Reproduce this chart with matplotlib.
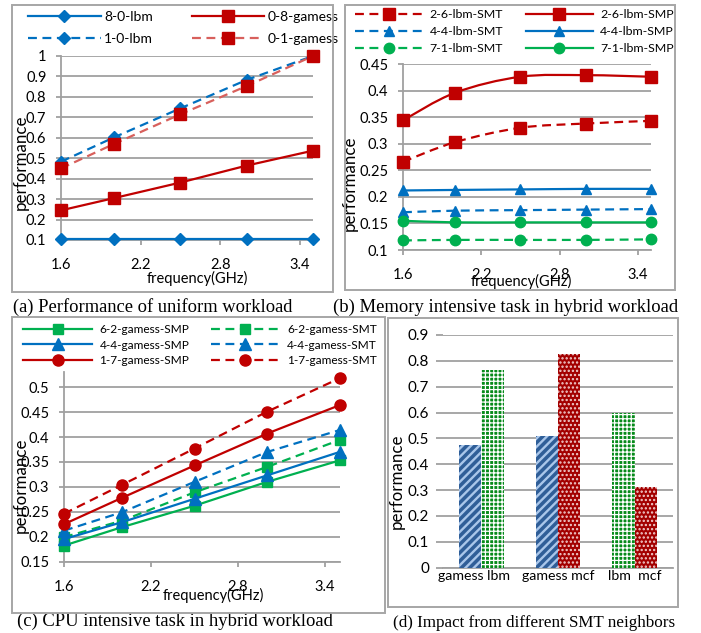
import numpy as np
import matplotlib
matplotlib.use("Agg")
import matplotlib.pyplot as plt
import matplotlib.transforms as mtransforms
from matplotlib.lines import Line2D
from matplotlib.patches import PathPatch, Rectangle
from matplotlib.path import Path

plt.rcParams['font.family'] = ['Lato', 'DejaVu Sans']

W, H, DPI = 701, 633, 100
BLUE = '#0070C0'
RED = '#C00000'
LRED = '#D8605C'
GREEN = '#00B050'
GRID = '#A0A0A0'
FRAME = '#A6A6A6'

# ---------------- data ----------------
freq = [1.6, 2.0, 2.5, 3.0, 3.5]
freq_ticks = [1.6, 2.2, 2.8, 3.4]
freq_ticklabels = ['1.6', '2.2', '2.8', '3.4']

# (a) uniform workload
a_800_lbm = [0.103, 0.103, 0.103, 0.103, 0.103]
a_100_lbm = [0.483, 0.602, 0.744, 0.883, 1.000]
a_080_gamess = [0.245, 0.305, 0.381, 0.464, 0.537]
a_010_gamess = [0.450, 0.570, 0.715, 0.853, 1.000]
a_yticks = [0.1, 0.2, 0.3, 0.4, 0.5, 0.6, 0.7, 0.8, 0.9, 1.0]
a_yticklabels = ['0.1', '0.2', '0.3', '0.4', '0.5', '0.6', '0.7', '0.8', '0.9', '1']

# (b) memory intensive task
b_26_smt = [0.266, 0.303, 0.330, 0.338, 0.343]
b_26_smp = [0.344, 0.396, 0.426, 0.429, 0.426]
b_44_smt = [0.171, 0.174, 0.175, 0.176, 0.177]
b_44_smp = [0.212, 0.213, 0.214, 0.215, 0.215]
b_71_smt = [0.118, 0.119, 0.119, 0.119, 0.120]
b_71_smp = [0.155, 0.152, 0.152, 0.152, 0.152]
b_yticks = [0.1, 0.15, 0.2, 0.25, 0.3, 0.35, 0.4, 0.45]
b_yticklabels = ['0.1', '0.15', '0.2', '0.25', '0.3', '0.35', '0.4', '0.45']

# (c) CPU intensive task
c_62_smp = [0.182, 0.219, 0.262, 0.310, 0.353]
c_62_smt = [0.199, 0.232, 0.289, 0.340, 0.394]
c_44_smp = [0.195, 0.229, 0.276, 0.323, 0.370]
c_44_smt = [0.212, 0.249, 0.310, 0.370, 0.414]
c_17_smp = [0.225, 0.278, 0.343, 0.407, 0.464]
c_17_smt = [0.246, 0.304, 0.377, 0.451, 0.518]
c_yticks = [0.15, 0.2, 0.25, 0.3, 0.35, 0.4, 0.45, 0.5]
c_yticklabels = ['0.15', '0.2', '0.25', '0.3', '0.35', '0.4', '0.45', '0.5']

# (d) SMT neighbours
d_groups = ['gamess lbm', 'gamess mcf', 'lbm  mcf']
d_left_prog = ['gamess', 'gamess', 'lbm']
d_left_vals = [0.475, 0.511, 0.600]
d_right_prog = ['lbm', 'mcf', 'mcf']
d_right_vals = [0.765, 0.826, 0.313]
d_yticks = [0, 0.1, 0.2, 0.3, 0.4, 0.5, 0.6, 0.7, 0.8, 0.9]
d_yticklabels = ['0', '0.1', '0.2', '0.3', '0.4', '0.5', '0.6', '0.7', '0.8', '0.9']

# ---------------- figure ----------------
fig = plt.figure(figsize=(W / DPI, H / DPI), dpi=DPI)
fig.patch.set_facecolor('white')


def add_axes_px(l, t, r, b):
    return fig.add_axes([l / W, 1 - b / H, (r - l) / W, (b - t) / H])


def style(ax, tick_fs=10.5, xpad=9, ypad=7):
    ax.set_axisbelow(True)
    ax.grid(axis='y', color=GRID, lw=1.3)
    ax.grid(axis='x', visible=False)
    for s in ['top', 'right']:
        ax.spines[s].set_visible(False)
    for s in ['left', 'bottom']:
        ax.spines[s].set_color(GRID)
        ax.spines[s].set_linewidth(1.3)
    ax.tick_params(direction='out', length=3.5, width=1.3, color=GRID,
                   labelsize=tick_fs, labelcolor='black')
    ax.tick_params(axis='x', pad=xpad)
    ax.tick_params(axis='y', pad=ypad)


DASH = (0, (4, 2.5))
LW = 1.6


def smooth_path(xs, ys):
    pts = np.column_stack([xs, ys]).astype(float)
    n = len(pts)
    verts = [pts[0]]
    codes = [Path.MOVETO]
    for i in range(n - 1):
        p0 = pts[max(i - 1, 0)]
        p1 = pts[i]
        p2 = pts[i + 1]
        p3 = pts[min(i + 2, n - 1)]
        c1 = p1 + (p2 - p0) / 6.0
        c2 = p2 - (p3 - p1) / 6.0
        verts += [c1, c2, p2]
        codes += [Path.CURVE4] * 3
    return Path(verts, codes)


def freq_axis(ax, ylo, yhi, yt, ytl):
    ax.set_xlim(1.6, 3.5)
    ax.set_ylim(ylo, yhi)
    ax.set_xticks(freq_ticks)
    ax.set_xticklabels(freq_ticklabels)
    ax.set_yticks(yt)
    ax.set_yticklabels(ytl)


def make_legend(ax, handles, labels, left, top, fs, hl, htp, cs, ls):
    leg = ax.legend(handles, labels, ncol=2, loc='upper left',
                    bbox_to_anchor=(left / W, 1 - top / H),
                    bbox_transform=fig.transFigure, fontsize=fs, frameon=True,
                    framealpha=1, facecolor='white', edgecolor='none', fancybox=False,
                    borderpad=0.2, handlelength=hl, handletextpad=htp,
                    columnspacing=cs, labelspacing=ls, borderaxespad=0)
    leg.set_zorder(20)
    return leg


# ---------- (a) ----------
axA = add_axes_px(61, 56, 313, 240)
style(axA, xpad=9.5)
freq_axis(axA, 0.1, 1.0, a_yticks, a_yticklabels)
axA.plot(freq, a_800_lbm, color=BLUE, lw=LW, marker='D', ms=6, mec=BLUE, clip_on=False, zorder=3)
axA.plot(freq, a_100_lbm, color=BLUE, lw=LW, ls=DASH, marker='D', ms=6, mec=BLUE, clip_on=False, zorder=3)
axA.plot(freq, a_080_gamess, color=RED, lw=LW, marker='s', ms=8.5, mec=RED, clip_on=False, zorder=3)
axA.plot(freq, a_010_gamess, color=LRED, lw=LW, ls=DASH, marker='s', ms=8.5, mfc=RED, mec=RED, clip_on=False, zorder=3)
hA = [Line2D([], [], color=BLUE, lw=LW, marker='D', ms=6),
      Line2D([], [], color=BLUE, lw=LW, ls=DASH, marker='D', ms=6),
      Line2D([], [], color=RED, lw=LW, marker='s', ms=8.5),
      Line2D([], [], color=LRED, lw=LW, ls=DASH, marker='s', ms=8.5, mfc=RED, mec=RED)]
lA = ['8-0-lbm', '1-0-lbm', '0-8-gamess', '0-1-gamess']
make_legend(axA, hA, lA, 25.5, 8, 10, 5.2, 0.25, 2.8, 0.75)

# ---------- (b) ----------
axB = add_axes_px(403, 64, 651, 250)
style(axB, xpad=9.5)
freq_axis(axB, 0.1, 0.45, b_yticks, b_yticklabels)
b_series = [
    (b_26_smt, RED, DASH, 's', 8, '2-6-lbm-SMT'),
    (b_44_smt, BLUE, DASH, '^', 7.5, '4-4-lbm-SMT'),
    (b_71_smt, GREEN, DASH, 'o', 7.5, '7-1-lbm-SMT'),
    (b_26_smp, RED, '-', 's', 8, '2-6-lbm-SMP'),
    (b_44_smp, BLUE, '-', '^', 7.5, '4-4-lbm-SMP'),
    (b_71_smp, GREEN, '-', 'o', 7.5, '7-1-lbm-SMP'),
]
hB, lB = [], []
for vals, col, ls, mk, ms, lab in b_series:
    axB.add_patch(PathPatch(smooth_path(freq, vals), fill=False, edgecolor=col, lw=LW,
                            ls=ls, zorder=3, clip_on=False))
    axB.plot(freq, vals, ls='none', marker=mk, ms=ms, color=col, clip_on=False, zorder=4)
    hB.append(Line2D([], [], color=col, lw=LW, ls=ls, marker=mk, ms=ms))
    lB.append(lab)
make_legend(axB, hB, lB, 352.5, 6.5, 8.9, 5.5, 0.55, 1.8, 0.5)

# ---------- (c) ----------
axC = add_axes_px(64, 372.4, 339.5, 561.5)
style(axC, xpad=9.5)
freq_axis(axC, 0.15, 0.53, c_yticks, c_yticklabels)
c_series = [
    (c_62_smp, GREEN, '-', 's', 7.5, '6-2-gamess-SMP'),
    (c_62_smt, GREEN, DASH, 's', 7.5, '6-2-gamess-SMT'),
    (c_44_smp, BLUE, '-', '^', 8.5, '4-4-gamess-SMP'),
    (c_44_smt, BLUE, DASH, '^', 8.5, '4-4-gamess-SMT'),
    (c_17_smp, RED, '-', 'o', 8, '1-7-gamess-SMP'),
    (c_17_smt, RED, DASH, 'o', 8, '1-7-gamess-SMT'),
]
hC = {}
for vals, col, ls, mk, ms, lab in c_series:
    axC.plot(freq, vals, color=col, lw=LW, ls=ls, marker=mk, ms=ms, clip_on=False, zorder=3)
    hC[lab] = Line2D([], [], color=col, lw=LW, ls=ls, marker=mk, ms=ms)
orderC = ['6-2-gamess-SMP', '4-4-gamess-SMP', '1-7-gamess-SMP',
          '6-2-gamess-SMT', '4-4-gamess-SMT', '1-7-gamess-SMT']
make_legend(axC, [hC[k] for k in orderC], orderC, 20.5, 321.5, 8.6, 5.8, 0.6, 1.8, 0.4)

# ---------- (d) ----------
axD = add_axes_px(443, 335, 673, 567.7)
style(axD, tick_fs=11)
axD.spines['left'].set_visible(False)
axD.set_xlim(-0.5, 2.5)
axD.set_ylim(0, 0.9)
axD.set_yticks(d_yticks)
axD.set_yticklabels(d_yticklabels)
xg = np.arange(len(d_groups))
axD.set_xticks(xg)
axD.set_xticklabels(d_groups, fontsize=10.2)
axD.tick_params(axis='x', length=0, pad=2)
axD.tick_params(axis='y', length=5, pad=5)
# first category label sits a little left of its group, as in the original
lbl0 = axD.get_xticklabels()[0]
lbl0.set_transform(lbl0.get_transform() +
                   mtransforms.ScaledTranslation(-7 / DPI, 0, fig.dpi_scale_trans))

prog_style = {
    'gamess': dict(fc='#2F5E98', hc='#A9C6EA', hatch='////', hlw=1.7),
    'lbm': dict(fc='#068A1A', hc='white', hatch='++++', hlw=0.9),
    'mcf': dict(fc='#A30000', hc='#F2D0D0', hatch='....', hlw=1.1),
}
BW = 0.293


def draw_bar(x, v, prog):
    st = prog_style[prog]
    with plt.rc_context({'hatch.linewidth': st['hlw']}):
        b = axD.bar(x, v, width=BW, color=st['fc'], edgecolor=st['hc'], hatch=st['hatch'],
                    lw=0, zorder=3)
    for p in b.patches:
        if hasattr(p, 'set_hatch_linewidth'):
            p.set_hatch_linewidth(st['hlw'])


for i in range(len(d_groups)):
    draw_bar(xg[i] - BW / 2, d_left_vals[i], d_left_prog[i])
    draw_bar(xg[i] + BW / 2, d_right_vals[i], d_right_prog[i])

# ---------- axis titles ----------
for (x, y) in [(21, 162), (350, 183), (21, 485), (397, 481)]:
    fig.text(x / W, 1 - y / H, 'performance', rotation=90, ha='center', va='center',
             fontsize=12.2, zorder=25)
for (x, y) in [(197, 278.5), (521.5, 281.5), (213, 595)]:
    fig.text(x / W, 1 - y / H, 'frequency(GHz)', ha='center', va='center', fontsize=10.5,
             zorder=25)

# ---------- panel frames ----------
for (x0, y0, x1, y1) in [(12, 5, 333, 292), (345, 5, 675, 290), (12, 317, 385, 613),
                         (388, 318, 678, 607)]:
    fig.add_artist(Rectangle((x0 / W, 1 - y1 / H), (x1 - x0) / W, (y1 - y0) / H,
                             transform=fig.transFigure, fill=False, ec=FRAME, lw=1.4,
                             zorder=30))

# ---------- captions ----------
renderer = fig.canvas.get_renderer()


def caption(x0, x1, yc, s):
    t = fig.text(x0 / W, 1 - yc / H, s, family=['Liberation Serif', 'DejaVu Serif'],
                 fontsize=12, ha='left', va='center')
    w = t.get_window_extent(renderer).width
    t.set_fontsize(12 * (x1 - x0) / w)


caption(13, 292, 307, '(a) Performance of uniform workload')
caption(333, 678, 307, '(b) Memory intensive task in hybrid workload')
caption(17, 332, 621, '(c) CPU intensive task in hybrid workload')
caption(393, 675, 623, '(d) Impact from different SMT neighbors')

fig.savefig('out.png', dpi=DPI, facecolor='white')
